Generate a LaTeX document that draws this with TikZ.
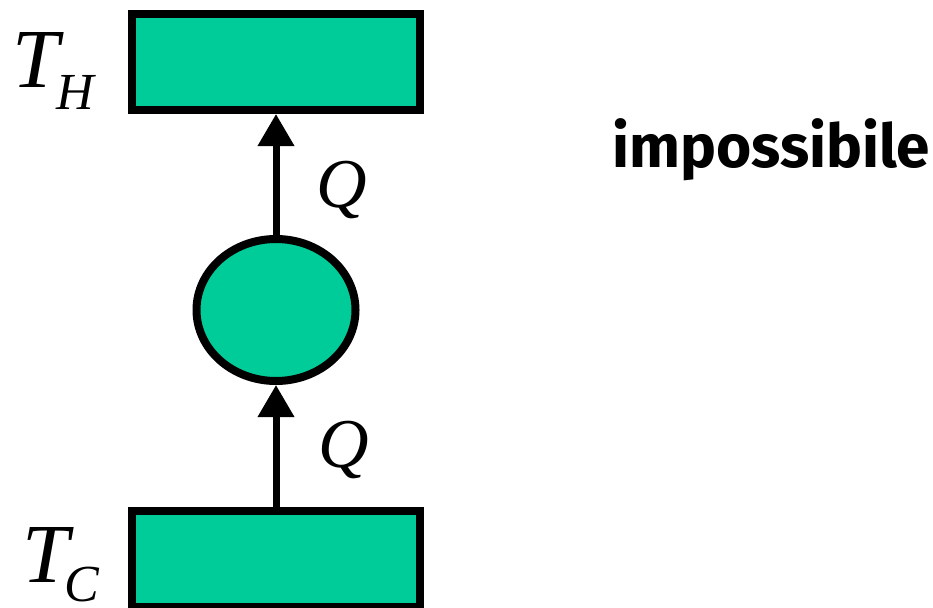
\documentclass[tikz,border=0pt]{standalone}
\usepackage{fontspec}
\setmainfont{Liberation Serif}
\newfontfamily\labelfont{Fira Sans}
\usetikzlibrary{arrows.meta,shapes.geometric}
\definecolor{res}{RGB}{0,204,153}
\tikzset{
  reservoir/.style={draw=black,fill=res,line width=8pt,rectangle,minimum width=288pt,minimum height=96pt,inner sep=0pt},
  engine/.style={draw=black,fill=res,line width=8pt,ellipse,minimum width=159pt,minimum height=142pt,inner sep=0pt},
  flow/.style={line width=7pt,-{Triangle[length=32pt,width=35pt]}},
  bigT/.style={inner sep=0pt,anchor=base west,font=\fontsize{84}{84}\selectfont\itshape},
  subs/.style={inner sep=0pt,anchor=base west,font=\fontsize{52}{52}\selectfont\itshape},
  qlab/.style={inner sep=0pt,anchor=base west,font=\fontsize{70}{70}\selectfont\itshape},
  note/.style={inner sep=0pt,anchor=base west,font=\labelfont\bfseries\fontsize{66}{66}\selectfont}
}
\begin{document}
\begin{tikzpicture}[x=1pt,y=-1pt]
\useasboundingbox (0,0) rectangle (933,607);
\node[reservoir] (top) at (276,62) {};
\node[reservoir] (bot) at (276,559) {};
\node[engine] (eng) at (276,310) {};
\draw[flow] (eng.north) -- (top.south);
\draw[flow] (bot.north) -- (eng.south);
\node[bigT] (th) at (12,88) {T};
\node[subs] (thsub) at (56,110) {H};
\node[bigT] (tc) at (22,582) {T};
\node[subs] (tcsub) at (64,601) {C};
\node[qlab] (q1) at (316,207) {Q};
\node[qlab] (q2) at (318,467) {Q};
\node[note] (imp) at (612,167) {\resizebox{318pt}{!}{impossibile}};
\end{tikzpicture}
\end{document}
